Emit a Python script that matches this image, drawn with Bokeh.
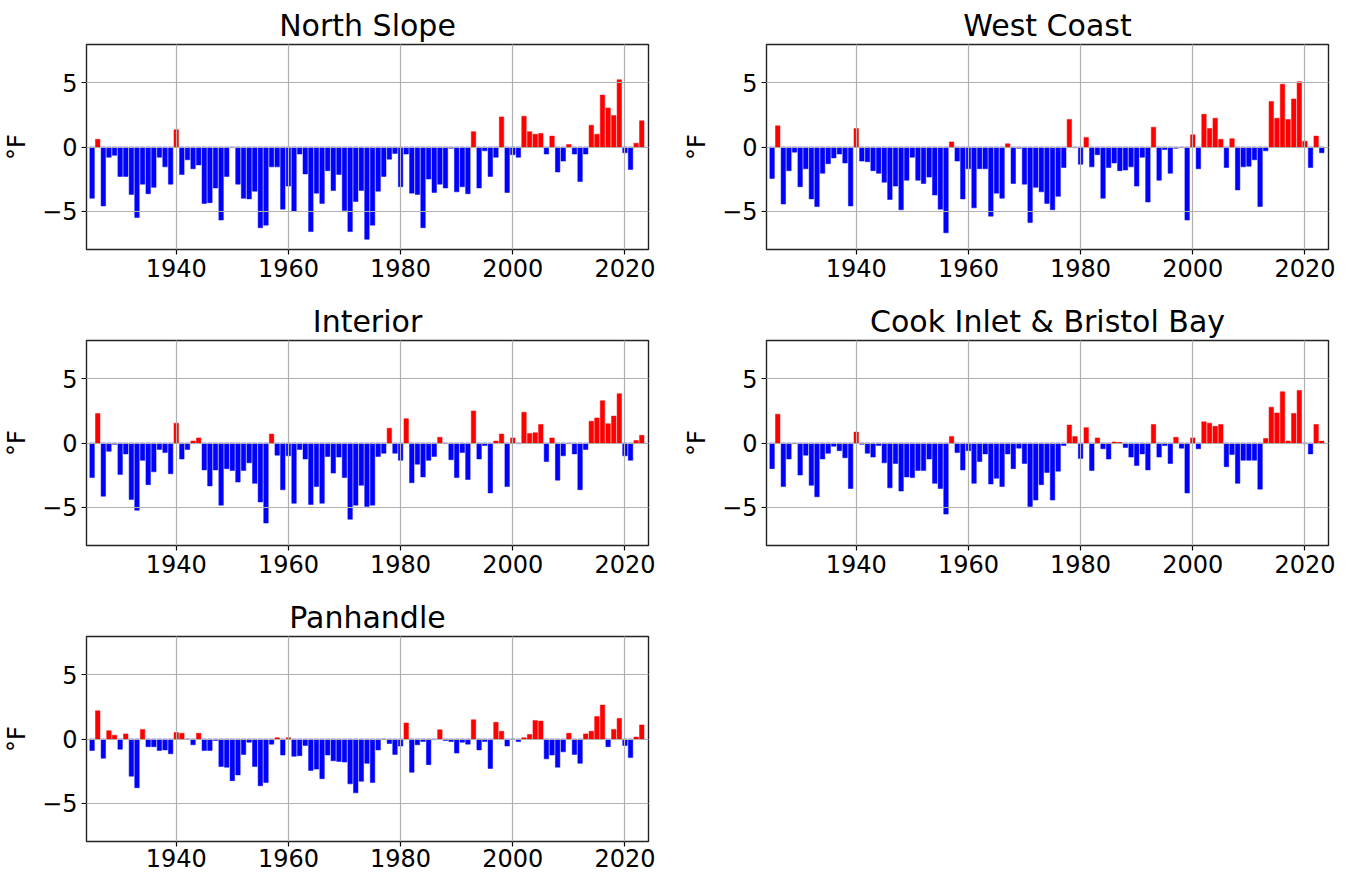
from bokeh.plotting import figure
from bokeh.layouts import column, row
from bokeh.models import Range1d, FixedTicker, ColumnDataSource
from bokeh.embed import file_html
from bokeh.resources import INLINE

years = list(range(1925, 2024))

north_slope = [
    -4.0, 0.6, -4.6, -0.8, -0.65, -2.3, -2.3, -3.7, -5.5, -2.9,
    -3.65, -3.15, -0.8, -1.55, -2.9, 1.35, -2.15, -1.0, -1.7, -1.4,
    -4.4, -4.35, -3.2, -5.7, -2.3, -0.05, -2.9, -4.0, -4.05, -3.45,
    -6.3, -6.1, -1.55, -1.55, -4.85, -3.05, -5.0, -0.55, -2.1, -6.6,
    -3.6, -4.4, -1.85, -3.4, -2.15, -4.95, -6.6, -4.25, -3.4, -7.2,
    -6.1, -3.45, -2.3, -0.95, -0.5, -3.1, -0.55, -3.6, -3.7, -6.3,
    -2.5, -3.55, -2.9, -3.2, -0.1, -3.5, -3.1, -3.65, 1.2, -3.2,
    -0.3, -2.3, -0.8, 2.35, -3.55, -0.6, -0.8, 2.4, 1.2, 1.0,
    1.05, -0.55, 0.85, -1.95, -1.1, 0.2, -0.55, -2.7, -0.55, 1.7,
    1.0, 4.05, 3.05, 2.45, 5.25, -0.45, -1.75, 0.3, 2.05,
]

west_coast = [
    -2.45, 1.65, -4.45, -1.85, -0.4, -3.1, -1.7, -4.05, -4.65, -2.05,
    -1.3, -0.85, -0.55, -1.25, -4.6, 1.45, -1.1, -1.15, -1.85, -2.05,
    -2.75, -4.1, -3.05, -4.9, -2.6, -0.8, -2.6, -2.85, -2.35, -3.75,
    -4.85, -6.7, 0.4, -1.1, -4.05, -1.7, -4.75, -1.7, -1.7, -5.4,
    -3.6, -4.0, 0.25, -2.85, -0.1, -2.9, -5.9, -3.15, -3.5, -4.4,
    -4.9, -3.85, -1.6, 2.15, -0.05, -1.35, 0.75, -1.55, -0.6, -4.0,
    -1.6, -1.25, -1.85, -1.8, -1.55, -3.05, -0.8, -4.3, 1.55, -2.6,
    -0.2, -2.05, -0.1, -0.05, -5.7, 0.95, -1.7, 2.55, 1.45, 2.25,
    0.6, -1.6, 0.65, -3.35, -1.55, -1.5, -1.0, -4.65, -0.3, 3.55,
    2.25, 4.9, 2.15, 3.75, 5.1, 0.45, -1.6, 0.85, -0.45,
]

interior = [
    -2.7, 2.3, -4.15, -0.65, -0.1, -2.45, -0.85, -4.4, -5.25, -1.35,
    -3.25, -2.25, -0.5, -0.75, -2.4, 1.55, -1.25, -0.5, 0.15, 0.4,
    -2.1, -3.35, -2.1, -4.85, -2.0, -2.15, -3.05, -2.15, -1.55, -3.15,
    -4.6, -6.25, 0.7, -0.95, -3.65, -1.0, -4.7, -0.5, -1.25, -4.8,
    -3.4, -4.7, -1.05, -2.35, -1.1, -2.7, -5.95, -4.85, -3.3, -4.95,
    -4.85, -1.05, -0.8, 1.15, -0.8, -1.35, 1.9, -3.1, -1.65, -2.65,
    -1.35, -1.05, 0.45, -0.05, -1.3, -2.7, -0.75, -2.85, 2.5, -1.25,
    -0.2, -3.9, 0.15, 0.7, -3.4, 0.4, -0.05, 2.4, 0.75, 0.8,
    1.45, -1.45, 0.4, -2.9, -1.0, -0.05, -0.85, -3.65, -0.5, 1.7,
    1.95, 3.3, 1.5, 2.1, 3.85, -1.0, -1.35, 0.2, 0.6,
]

cook_inlet_bristol_bay = [
    -2.0, 2.25, -3.4, -1.25, -0.05, -2.5, -0.95, -3.3, -4.2, -1.25,
    -0.8, -0.25, -0.6, -1.15, -3.55, 0.85, -0.1, -0.8, -1.1, -0.2,
    -1.55, -3.5, -1.6, -3.75, -2.65, -2.7, -2.15, -2.15, -1.25, -3.15,
    -3.55, -5.55, 0.5, -0.75, -2.1, -0.6, -3.15, -1.45, -0.85, -3.2,
    -2.75, -3.4, -0.85, -2.0, -0.4, -1.6, -4.95, -4.45, -3.25, -2.3,
    -4.45, -2.2, -0.2, 1.4, 0.5, -1.2, 1.2, -2.15, 0.4, -0.45,
    -1.25, 0.08, 0.05, -0.35, -1.1, -1.75, -0.85, -2.1, 1.45, -1.1,
    -0.2, -1.6, 0.45, -0.4, -3.9, 0.4, -0.45, 1.65, 1.55, 1.3,
    1.45, -1.85, -0.9, -3.15, -1.35, -1.35, -1.35, -3.6, 0.35, 2.8,
    2.35, 4.0, 0.15, 2.3, 4.1, -0.05, -0.85, 1.45, 0.15,
]

panhandle = [
    -0.9, 2.2, -1.5, 0.65, 0.3, -0.8, 0.4, -2.9, -3.8, 0.75,
    -0.6, -0.6, -0.9, -0.85, -1.15, 0.5, 0.45, -0.02, -0.45, 0.45,
    -0.9, -0.9, -0.12, -2.15, -2.2, -3.25, -2.8, -1.2, -0.25, -2.15,
    -3.65, -3.4, -0.4, 0.1, -1.25, 0.1, -1.35, -1.3, -0.5, -2.45,
    -2.35, -3.1, -1.25, -1.7, -1.75, -1.8, -3.5, -4.2, -3.3, -1.9,
    -3.4, -0.85, -0.02, -0.35, -1.2, -0.55, 1.25, -2.6, -0.45, -0.2,
    -2.0, -0.05, 0.72, -0.12, -0.2, -1.1, -0.25, -0.4, 1.5, -0.85,
    -0.2, -2.3, 1.3, 0.6, -0.55, -0.02, -0.2, 0.1, 0.35, 1.45,
    1.4, -1.55, -1.25, -2.2, -1.0, 0.45, -1.2, -1.9, 0.4, 0.6,
    1.75, 2.65, -0.6, 0.75, 1.6, -0.5, -1.45, 0.15, 1.1,
]

titles = ["North Slope", "West Coast", "Interior", "Cook Inlet & Bristol Bay", "Panhandle"]
series = [north_slope, west_coast, interior, cook_inlet_bristol_bay, panhandle]
x_ticks = [1940, 1960, 1980, 2000, 2020]
y_ticks = [-5, 0, 5]
y_label = "°F"

FONT = "DejaVu Sans"


def make_panel(title, vals, left, right, bottom, x_standoff=4):
    p = figure(frame_width=562, frame_height=205,
               x_range=Range1d(1924.0, 2024.2), y_range=Range1d(-8, 8),
               output_backend="svg", toolbar_location=None,
               min_border_left=left, min_border_right=right,
               min_border_top=44, min_border_bottom=bottom)
    colors = ["#ff0000" if v > 0 else "#0000ff" for v in vals]
    src = ColumnDataSource(dict(x=years, top=vals, color=colors))
    p.vbar(x="x", top="top", bottom=0, width=0.8, fill_color="color",
           line_color="color", line_width=0.5, source=src)

    p.title.text = title
    p.title.align = "center"
    p.title.text_font = FONT
    p.title.text_font_size = "30px"
    p.title.text_font_style = "normal"
    p.title.text_color = "black"
    p.title.standoff = 4

    p.xaxis.ticker = FixedTicker(ticks=x_ticks)
    p.yaxis.ticker = FixedTicker(ticks=y_ticks)
    p.yaxis.major_label_overrides = {-5: "\u22125", 0: "0", 5: "5"}
    for ax in (p.xaxis, p.yaxis):
        ax.major_label_text_font = FONT
        ax.major_label_text_font_size = "24px"
        ax.major_label_text_color = "black"
        ax.major_tick_out = 5
        ax.major_tick_in = 0
        ax.major_tick_line_color = "black"
        ax.major_tick_line_width = 1.2
        ax.minor_tick_line_color = None
        ax.axis_line_color = None
        ax.major_label_standoff = 4
    p.xaxis.major_label_standoff = x_standoff
    p.yaxis.axis_label = y_label
    p.yaxis.axis_label_text_font = FONT
    p.yaxis.axis_label_text_font_size = "24px"
    p.yaxis.axis_label_text_font_style = "normal"
    p.yaxis.axis_label_text_color = "black"
    p.yaxis.axis_label_standoff = 8

    p.grid.grid_line_color = "#b0b0b0"
    p.grid.grid_line_width = 1.2
    p.grid.level = "annotation"

    p.outline_line_color = "#222222"
    p.outline_line_width = 1.4
    p.background_fill_color = "white"
    p.border_fill_color = "white"
    return p


p1 = make_panel(titles[0], series[0], 86, 32, 47)
p2 = make_panel(titles[1], series[1], 84, 14, 47)
p3 = make_panel(titles[2], series[2], 86, 32, 47)
p4 = make_panel(titles[3], series[3], 84, 14, 47)
p5 = make_panel(titles[4], series[4], 86, 32, 30, x_standoff=2)

layout = column(row(p1, p2), row(p3, p4), row(p5))

with open("out.html", "w") as f:
    f.write(file_html(layout, INLINE))
